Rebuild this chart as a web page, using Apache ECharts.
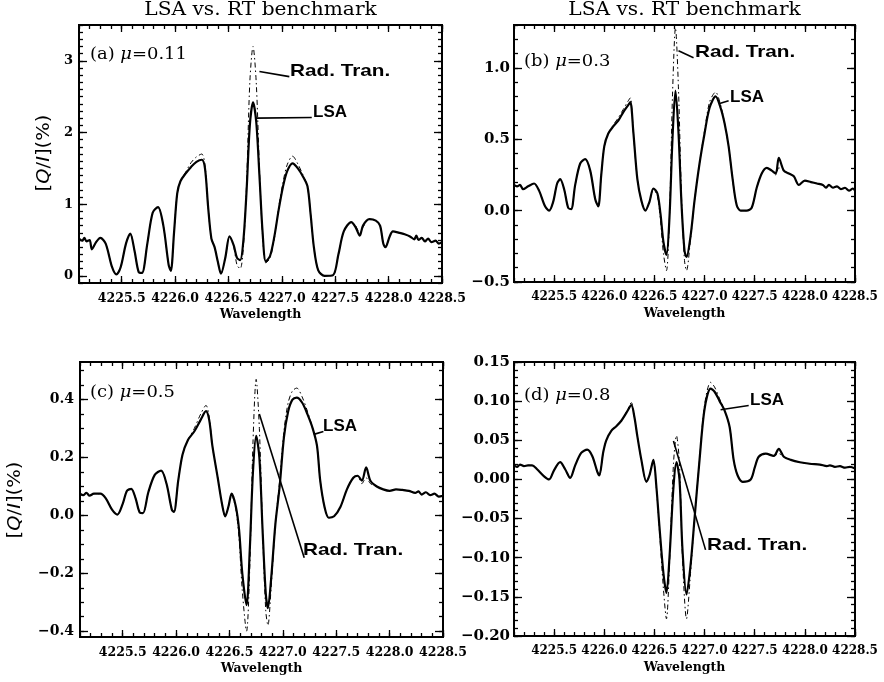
<!DOCTYPE html>
<html>
<head>
<meta charset="utf-8">
<script src="https://cdn.jsdelivr.net/npm/echarts@6/dist/echarts.min.js"></script>
<style>
html, body { margin: 0; padding: 0; background: #fff; }
#container { width: 884px; height: 682px; }
</style>
</head>
<body>
<div id="container"></div>
<script>
// ---- data ----
// shared x tick labels
const xTicks = [4225.5, 4226.0, 4226.5, 4227.0, 4227.5, 4228.0, 4228.5];

// (a) mu = 0.11
const waveA = [
    4225.10, 4225.13, 4225.15, 4225.17, 4225.20, 4225.22, 4225.26, 4225.30, 4225.35, 4225.41,
    4225.45, 4225.49, 4225.54, 4225.58, 4225.62, 4225.66, 4225.69, 4225.74, 4225.79, 4225.84,
    4225.89, 4225.94, 4225.96, 4225.99, 4226.02, 4226.05, 4226.10, 4226.15, 4226.20, 4226.25,
    4226.28, 4226.31, 4226.34, 4226.37, 4226.40, 4226.43, 4226.47, 4226.51, 4226.55, 4226.58,
    4226.61, 4226.64, 4226.67, 4226.70, 4226.73, 4226.76, 4226.79, 4226.82, 4226.85, 4226.89,
    4226.93, 4226.97, 4227.01, 4227.05, 4227.10, 4227.15, 4227.20, 4227.24, 4227.27, 4227.30,
    4227.34, 4227.40, 4227.48, 4227.53, 4227.58, 4227.65, 4227.69, 4227.73, 4227.76, 4227.82,
    4227.88, 4227.92, 4227.95, 4227.97, 4228.01, 4228.04, 4228.10, 4228.15, 4228.20, 4228.24,
    4228.26, 4228.28, 4228.31, 4228.34, 4228.37, 4228.40, 4228.44, 4228.47, 4228.50
];
const lsaA = [
    0.52, 0.49, 0.53, 0.48, 0.50, 0.37, 0.47, 0.53, 0.45, 0.12,
    0.02, 0.12, 0.45, 0.59, 0.35, 0.05, 0.04, 0.45, 0.88, 0.96,
    0.70, 0.15, 0.07, 0.60, 1.15, 1.32, 1.43, 1.52, 1.59, 1.62,
    1.50, 0.95, 0.52, 0.40, 0.20, 0.03, 0.25, 0.55, 0.42, 0.25,
    0.22, 0.50, 1.20, 2.10, 2.42, 2.15, 1.40, 0.60, 0.20, 0.28,
    0.55, 0.92, 1.24, 1.46, 1.57, 1.50, 1.38, 1.25, 0.85, 0.40,
    0.08, 0.00, 0.01, 0.30, 0.62, 0.75, 0.68, 0.56, 0.70, 0.79,
    0.77, 0.70, 0.45, 0.40, 0.55, 0.62, 0.60, 0.58, 0.55, 0.51,
    0.56, 0.50, 0.53, 0.48, 0.52, 0.47, 0.49, 0.45, 0.47
];
const rtA = [
    0.52, 0.49, 0.53, 0.48, 0.50, 0.37, 0.47, 0.53, 0.45, 0.12,
    0.02, 0.12, 0.45, 0.59, 0.35, 0.05, 0.04, 0.45, 0.88, 0.96,
    0.70, 0.15, 0.07, 0.60, 1.15, 1.32, 1.45, 1.58, 1.66, 1.70,
    1.55, 0.95, 0.52, 0.40, 0.20, 0.03, 0.25, 0.55, 0.40, 0.15,
    0.10, 0.40, 1.30, 2.70, 3.20, 2.70, 1.50, 0.55, 0.18, 0.25,
    0.52, 0.95, 1.30, 1.55, 1.67, 1.56, 1.40, 1.25, 0.85, 0.40,
    0.08, 0.00, 0.01, 0.30, 0.62, 0.75, 0.70, 0.60, 0.68, 0.79,
    0.77, 0.70, 0.45, 0.40, 0.55, 0.62, 0.60, 0.58, 0.55, 0.51,
    0.56, 0.50, 0.53, 0.48, 0.52, 0.47, 0.49, 0.45, 0.47
];
const yTicksA = [0, 1, 2, 3];

// (b) mu = 0.3
const waveB = [
    4225.10, 4225.13, 4225.16, 4225.19, 4225.24, 4225.30, 4225.35, 4225.41, 4225.45, 4225.49,
    4225.53, 4225.56, 4225.60, 4225.64, 4225.67, 4225.71, 4225.76, 4225.81, 4225.86, 4225.91,
    4225.94, 4225.97, 4226.00, 4226.04, 4226.09, 4226.14, 4226.19, 4226.24, 4226.26, 4226.29,
    4226.33, 4226.37, 4226.41, 4226.45, 4226.49, 4226.53, 4226.56, 4226.59, 4226.62, 4226.65,
    4226.68, 4226.71, 4226.74, 4226.77, 4226.80, 4226.82, 4226.86, 4226.90, 4226.95, 4227.00,
    4227.05, 4227.11, 4227.16, 4227.20, 4227.24, 4227.28, 4227.32, 4227.36, 4227.42, 4227.47,
    4227.52, 4227.57, 4227.62, 4227.67, 4227.71, 4227.74, 4227.79, 4227.84, 4227.89, 4227.94,
    4228.00, 4228.06, 4228.12, 4228.18, 4228.21, 4228.24, 4228.28, 4228.32, 4228.36, 4228.40,
    4228.44, 4228.48, 4228.50
];
const lsaB = [
    0.18, 0.17, 0.18, 0.15, 0.17, 0.19, 0.14, 0.03, 0.00, 0.06,
    0.19, 0.22, 0.15, 0.02, 0.01, 0.18, 0.33, 0.36, 0.28, 0.08,
    0.03, 0.25, 0.45, 0.54, 0.59, 0.63, 0.69, 0.74, 0.76, 0.55,
    0.22, 0.07, 0.00, 0.06, 0.155, 0.12, -0.02, -0.22, -0.31, -0.05,
    0.50, 0.84, 0.55, 0.05, -0.28, -0.325, -0.18, 0.07, 0.33, 0.54,
    0.72, 0.80, 0.72, 0.61, 0.45, 0.22, 0.04, 0.00, 0.00, 0.02,
    0.16, 0.26, 0.30, 0.28, 0.26, 0.37, 0.28, 0.26, 0.24, 0.18,
    0.21, 0.20, 0.19, 0.18, 0.16, 0.18, 0.16, 0.17, 0.15, 0.16,
    0.14, 0.155, 0.14
];
const rtB = [
    0.18, 0.17, 0.18, 0.15, 0.17, 0.19, 0.14, 0.03, 0.00, 0.06,
    0.19, 0.22, 0.15, 0.02, 0.01, 0.18, 0.33, 0.36, 0.28, 0.08,
    0.03, 0.25, 0.45, 0.54, 0.60, 0.65, 0.71, 0.77, 0.79, 0.55,
    0.22, 0.07, 0.00, 0.06, 0.15, 0.10, -0.06, -0.30, -0.42, -0.05,
    0.80, 1.28, 0.85, 0.10, -0.35, -0.42, -0.20, 0.07, 0.33, 0.56,
    0.76, 0.83, 0.74, 0.61, 0.45, 0.22, 0.04, 0.00, 0.00, 0.02,
    0.16, 0.26, 0.30, 0.28, 0.25, 0.30, 0.28, 0.26, 0.24, 0.18,
    0.21, 0.20, 0.19, 0.18, 0.16, 0.18, 0.16, 0.17, 0.15, 0.16,
    0.14, 0.155, 0.14
];
const yTicksB = [-0.5, 0.0, 0.5, 1.0];

// (c) mu = 0.5
const waveC = [
    4225.10, 4225.13, 4225.16, 4225.19, 4225.23, 4225.29, 4225.34, 4225.40, 4225.45, 4225.50,
    4225.54, 4225.58, 4225.62, 4225.66, 4225.69, 4225.74, 4225.80, 4225.86, 4225.91, 4225.96,
    4225.98, 4226.02, 4226.06, 4226.11, 4226.17, 4226.23, 4226.28, 4226.31, 4226.34, 4226.39,
    4226.43, 4226.46, 4226.49, 4226.52, 4226.56, 4226.59, 4226.62, 4226.66, 4226.69, 4226.72,
    4226.75, 4226.78, 4226.81, 4226.84, 4226.86, 4226.89, 4226.93, 4226.97, 4227.01, 4227.05,
    4227.09, 4227.13, 4227.18, 4227.23, 4227.28, 4227.32, 4227.35, 4227.39, 4227.43, 4227.48,
    4227.54, 4227.60, 4227.66, 4227.70, 4227.74, 4227.78, 4227.82, 4227.88, 4227.94, 4228.00,
    4228.06, 4228.12, 4228.18, 4228.24, 4228.27, 4228.30, 4228.34, 4228.38, 4228.42, 4228.46,
    4228.50
];
const lsaC = [
    0.075, 0.070, 0.078, 0.068, 0.075, 0.075, 0.060, 0.020, 0.003, 0.040,
    0.085, 0.092, 0.060, 0.010, 0.008, 0.080, 0.140, 0.155, 0.110, 0.020,
    0.012, 0.120, 0.210, 0.260, 0.290, 0.330, 0.360, 0.330, 0.240, 0.130,
    0.040, -0.003, 0.030, 0.075, 0.030, -0.050, -0.200, -0.310, -0.120, 0.150,
    0.275, 0.200, -0.050, -0.270, -0.320, -0.220, -0.030, 0.100, 0.270, 0.360,
    0.400, 0.407, 0.390, 0.350, 0.300, 0.240, 0.120, 0.030, -0.008, -0.003,
    0.030, 0.090, 0.130, 0.137, 0.120, 0.166, 0.120, 0.100, 0.090, 0.085,
    0.090, 0.088, 0.085, 0.078, 0.083, 0.072, 0.080, 0.070, 0.075, 0.065,
    0.068
];
const rtC = [
    0.075, 0.070, 0.078, 0.068, 0.075, 0.075, 0.060, 0.020, 0.003, 0.040,
    0.085, 0.092, 0.060, 0.010, 0.008, 0.080, 0.140, 0.155, 0.110, 0.020,
    0.012, 0.120, 0.210, 0.260, 0.300, 0.350, 0.380, 0.340, 0.240, 0.130,
    0.040, -0.003, 0.030, 0.070, 0.020, -0.080, -0.260, -0.400, -0.180, 0.250,
    0.470, 0.300, -0.050, -0.330, -0.380, -0.250, -0.030, 0.120, 0.290, 0.390,
    0.430, 0.440, 0.410, 0.360, 0.300, 0.240, 0.120, 0.030, -0.008, -0.003,
    0.030, 0.090, 0.130, 0.137, 0.110, 0.130, 0.110, 0.100, 0.090, 0.085,
    0.090, 0.088, 0.085, 0.078, 0.083, 0.072, 0.080, 0.070, 0.075, 0.065,
    0.068
];
const yTicksC = [-0.4, -0.2, 0.0, 0.2, 0.4];

// (d) mu = 0.8
const waveD = [
    4225.10, 4225.13, 4225.16, 4225.20, 4225.24, 4225.28, 4225.33, 4225.40, 4225.45, 4225.50,
    4225.56, 4225.61, 4225.66, 4225.71, 4225.77, 4225.83, 4225.88, 4225.93, 4225.95, 4225.99,
    4226.02, 4226.07, 4226.12, 4226.17, 4226.22, 4226.27, 4226.30, 4226.33, 4226.37, 4226.42,
    4226.45, 4226.49, 4226.52, 4226.55, 4226.59, 4226.62, 4226.65, 4226.69, 4226.72, 4226.75,
    4226.78, 4226.82, 4226.86, 4226.90, 4226.95, 4227.00, 4227.06, 4227.10, 4227.15, 4227.20,
    4227.25, 4227.29, 4227.33, 4227.38, 4227.46, 4227.50, 4227.54, 4227.61, 4227.69, 4227.74,
    4227.79, 4227.86, 4227.95, 4228.05, 4228.15, 4228.22, 4228.25, 4228.30, 4228.35, 4228.40,
    4228.45, 4228.50
];
const lsaD = [
    0.018, 0.016, 0.019, 0.017, 0.018, 0.018, 0.013, 0.004, 0.000, 0.012,
    0.022, 0.013, 0.002, 0.018, 0.034, 0.038, 0.030, 0.010, 0.005, 0.035,
    0.050, 0.062, 0.068, 0.075, 0.085, 0.095, 0.080, 0.055, 0.025, -0.003,
    0.005, 0.025, -0.010, -0.060, -0.120, -0.145, -0.100, -0.010, 0.022, 0.000,
    -0.090, -0.147, -0.110, -0.050, 0.025, 0.090, 0.116, 0.112, 0.100, 0.088,
    0.067, 0.025, 0.005, -0.003, 0.000, 0.015, 0.029, 0.033, 0.030, 0.039,
    0.029, 0.025, 0.022, 0.020, 0.019, 0.017, 0.018, 0.016, 0.017, 0.015,
    0.016, 0.014
];
const rtD = [
    0.018, 0.016, 0.019, 0.017, 0.018, 0.018, 0.013, 0.004, 0.000, 0.012,
    0.022, 0.013, 0.002, 0.018, 0.034, 0.038, 0.030, 0.010, 0.005, 0.035,
    0.050, 0.062, 0.068, 0.075, 0.086, 0.098, 0.080, 0.055, 0.025, -0.003,
    0.005, 0.025, -0.012, -0.065, -0.140, -0.178, -0.110, 0.020, 0.056, 0.020,
    -0.100, -0.178, -0.120, -0.050, 0.025, 0.095, 0.124, 0.118, 0.103, 0.088,
    0.067, 0.025, 0.005, -0.003, 0.000, 0.015, 0.029, 0.033, 0.030, 0.033,
    0.029, 0.025, 0.022, 0.020, 0.019, 0.017, 0.018, 0.016, 0.017, 0.015,
    0.016, 0.014
];
const yTicksD = [-0.20, -0.15, -0.10, -0.05, 0.00, 0.05, 0.10, 0.15];

// ---- layout ----
var dom = document.getElementById("container");
var chart = echarts.init(dom);

const X_MIN = 4225.1, X_MAX = 4228.5;
const SERIF = "DejaVu Serif";
const SANS = "Liberation Sans";

var panels = [
    { grid: { left: 79, top: 25, width: 363, height: 258 }, wave: waveA, lsa: lsaA, rt: rtA,
      yMin: -0.1, yMax: 3.5, yTicks: yTicksA, yMinor: 0.1, yDigits: 0, yFont: 13, yMargin: 6, xFont: 12.5,
      tag: "a", mu: "0.11", tagPos: [90, 55],
      lsaText: [313, 112], rtText: [290, 71],
      lsaPtr: [4226.76, 2.20, 4227.28, 2.21], rtPtr: [4226.79, 2.85, 4227.07, 2.78] },
    { grid: { left: 514, top: 25, width: 341, height: 257 }, wave: waveB, lsa: lsaB, rt: rtB,
      yMin: -0.5, yMax: 1.3, yTicks: yTicksB, yMinor: 0.1, yDigits: 1, yFont: 15, yMargin: 4, xFont: 12,
      tag: "b", mu: "0.3", tagPos: [524, 62],
      lsaText: [730, 97], rtText: [695, 52],
      lsaPtr: [4227.15, 0.75, 4227.24, 0.77], rtPtr: [4226.74, 1.12, 4226.89, 1.07] },
    { grid: { left: 80, top: 362, width: 363, height: 275 }, wave: waveC, lsa: lsaC, rt: rtC,
      yMin: -0.42, yMax: 0.53, yTicks: yTicksC, yMinor: 0.05, yDigits: 1, yFont: 14, yMargin: 6, xFont: 12.5,
      tag: "c", mu: "0.5", tagPos: [90, 393],
      lsaText: [323, 426], rtText: [303, 550],
      lsaPtr: [4227.29, 0.28, 4227.38, 0.29], rtPtr: [4226.78, 0.35, 4227.20, -0.146] },
    { grid: { left: 514, top: 362, width: 341, height: 274 }, wave: waveD, lsa: lsaD, rt: rtD,
      yMin: -0.2, yMax: 0.15, yTicks: yTicksD, yMinor: 0.01, yDigits: 2, yFont: 15, yMargin: 4, xFont: 12,
      tag: "d", mu: "0.8", tagPos: [524, 396],
      lsaText: [750, 400], rtText: [707, 545],
      lsaPtr: [4227.16, 0.089, 4227.44, 0.0945], rtPtr: [4226.69, 0.049, 4227.01, -0.09] }
];

function minorList(lo, hi, step) {
    var out = [];
    for (var k = Math.ceil(lo / step - 1e-6); k * step <= hi + 1e-9; k++) {
        out.push(+(k * step).toFixed(4));
    }
    return out;
}

function fmtNum(v, digits) {
    var s = Math.abs(v).toFixed(digits);
    return v < -1e-9 ? "\u2212" + s : s;
}

var grids = [], xAxes = [], yAxes = [], series = [], graphics = [];
var xMinorTicks = minorList(X_MIN, X_MAX, 0.1);

panels.forEach(function (p, i) {
    grids.push(Object.assign({ show: true, borderColor: "#000", borderWidth: 2, backgroundColor: "transparent" }, p.grid));

    var tickStyle = { color: "#000", width: 1.3 };
    function xAxis(pos, ticks, len, labels) {
        var ax = {
            type: "value", gridIndex: i, min: X_MIN, max: X_MAX, position: pos,
            axisLine: { show: false, onZero: false }, splitLine: { show: false },
            axisTick: { show: true, inside: true, length: len, customValues: ticks, lineStyle: tickStyle },
            axisLabel: { show: false }
        };
        if (labels) {
            ax.axisLabel = {
                show: true, customValues: ticks, margin: 9, showMinLabel: true, showMaxLabel: true,
                formatter: function (v) { return v.toFixed(1); },
                color: "#000", fontFamily: SERIF, fontWeight: "bold", fontSize: p.xFont
            };
            ax.name = "Wavelength";
            ax.nameLocation = "middle";
            ax.nameGap = 25;
            ax.nameTextStyle = { color: "#000", fontFamily: SERIF, fontWeight: "bold", fontSize: 12.5 };
        }
        return ax;
    }
    function yAxis(pos, ticks, len, labels) {
        var ax = {
            type: "value", gridIndex: i, min: p.yMin, max: p.yMax, position: pos,
            axisLine: { show: false, onZero: false }, splitLine: { show: false },
            axisTick: { show: true, inside: true, length: len, customValues: ticks, lineStyle: tickStyle },
            axisLabel: { show: false }
        };
        if (labels) {
            ax.axisLabel = {
                show: true, customValues: ticks, margin: p.yMargin, showMinLabel: true, showMaxLabel: true,
                formatter: function (v) { return fmtNum(v, p.yDigits); },
                color: "#000", fontFamily: SERIF, fontWeight: "bold", fontSize: p.yFont
            };
        }
        return ax;
    }
    var yMinorTicks = minorList(p.yMin, p.yMax, p.yMinor);

    xAxes.push(xAxis("bottom", xTicks, 7, true));
    xAxes.push(xAxis("bottom", xMinorTicks, 4, false));
    xAxes.push(xAxis("top", xTicks, 7, false));
    xAxes.push(xAxis("top", xMinorTicks, 4, false));
    yAxes.push(yAxis("left", p.yTicks, 8, true));
    yAxes.push(yAxis("left", yMinorTicks, 4, false));
    yAxes.push(yAxis("right", p.yTicks, 8, false));
    yAxes.push(yAxis("right", yMinorTicks, 4, false));

    series.push({
        name: "Rad. Tran.", type: "line", xAxisIndex: 4 * i, yAxisIndex: 4 * i,
        data: p.wave.map(function (w, k) { return [w, p.rt[k]]; }),
        showSymbol: false, symbol: "none", smooth: 0.3, z: 2,
        lineStyle: { color: "#000", width: 1, type: [5, 3, 1.5, 3] }
    });
    series.push({
        name: "LSA", type: "line", xAxisIndex: 4 * i, yAxisIndex: 4 * i,
        data: p.wave.map(function (w, k) { return [w, p.lsa[k]]; }),
        showSymbol: false, symbol: "none", smooth: 0.3, z: 3,
        lineStyle: { color: "#000", width: 2.2 },
        markLine: {
            silent: true, symbol: ["none", "none"], animation: false,
            label: { show: false },
            lineStyle: { color: "#000", width: 1.6, type: "solid" },
            data: [
                [{ coord: [p.lsaPtr[0], p.lsaPtr[1]] }, { coord: [p.lsaPtr[2], p.lsaPtr[3]] }],
                [{ coord: [p.rtPtr[0], p.rtPtr[1]] }, { coord: [p.rtPtr[2], p.rtPtr[3]] }]
            ]
        }
    });

    // panel tag, e.g. "(a) mu=0.11"
    graphics.push({
        type: "text", x: p.tagPos[0], y: p.tagPos[1], scaleX: 1.12,
        style: {
            text: "(" + p.tag + ") {i|\u03bc}=" + p.mu,
            rich: { i: { fontStyle: "italic", fontFamily: SERIF, fontSize: 16, fill: "#000" } },
            fontFamily: SERIF, fontSize: 16, fill: "#000",
            textAlign: "left", textVerticalAlign: "middle"
        }
    });
    graphics.push({
        type: "text", x: p.lsaText[0], y: p.lsaText[1], scaleX: 1.0,
        style: { text: "LSA", fontFamily: SANS, fontWeight: "bold", fontSize: 17, fill: "#000",
                 textAlign: "left", textVerticalAlign: "middle" }
    });
    graphics.push({
        type: "text", x: p.rtText[0], y: p.rtText[1], scaleX: 1.22,
        style: { text: "Rad. Tran.", fontFamily: SANS, fontWeight: "bold", fontSize: 17, fill: "#000",
                 textAlign: "left", textVerticalAlign: "middle" }
    });
});

// column titles
[260.5, 684.5].forEach(function (cx) {
    graphics.push({
        type: "text", x: cx, y: 10, scaleX: 1.12,
        style: { text: "LSA vs. RT benchmark", fontFamily: SERIF, fontSize: 18, fill: "#000",
                 textAlign: "center", textVerticalAlign: "middle" }
    });
});

// y titles on the left column
[[45, 153], [16, 500]].forEach(function (pt) {
    graphics.push({
        type: "text", x: pt[0], y: pt[1], rotation: Math.PI / 2, scaleX: 1.15,
        style: {
            text: "[{i|Q}/{i|I}](%)",
            rich: { i: { fontStyle: "italic", fontFamily: "DejaVu Sans", fontSize: 17, fill: "#000" } },
            fontFamily: "DejaVu Sans", fontSize: 17, fill: "#000",
            textAlign: "center", textVerticalAlign: "middle"
        }
    });
});

var option = {
    animation: false,
    backgroundColor: "#fff",
    grid: grids,
    xAxis: xAxes,
    yAxis: yAxes,
    series: series,
    graphic: { elements: graphics }
};

chart.setOption(option);
</script>
</body>
</html>
